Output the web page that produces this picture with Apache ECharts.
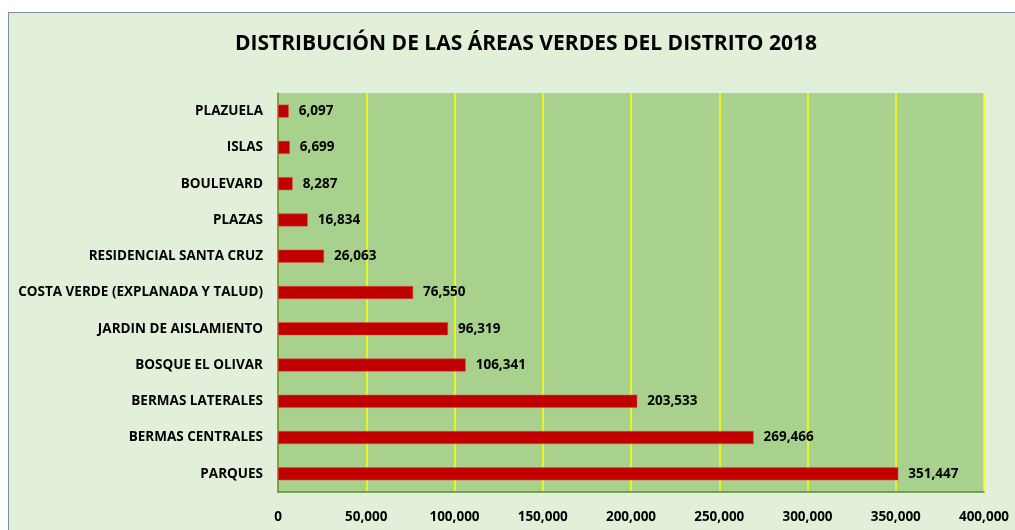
<!DOCTYPE html>
<html>
<head>
<meta charset="utf-8">
<script src="https://cdn.jsdelivr.net/npm/echarts@6/dist/echarts.min.js"></script>
<style>
  html, body { margin: 0; padding: 0; background: #fff; }
  #frame {
    position: absolute; left: 8px; top: 12px; right: -4px; bottom: -4px;
    background: #e2efd9;
    border-left: 1px solid #7f8fa6;
    border-top: 1px solid #7f8fa6;
  }
  #chart { position: absolute; left: 0; top: 0; width: 1015px; height: 530px; }
</style>
</head>
<body>
<div id="frame"></div>
<div id="chart"></div>
<script>
const FONT = '"Open Sans", sans-serif';

const categories = [
  "PLAZUELA",
  "ISLAS",
  "BOULEVARD",
  "PLAZAS",
  "RESIDENCIAL SANTA CRUZ",
  "COSTA VERDE (EXPLANADA Y TALUD)",
  "JARDIN DE AISLAMIENTO",
  "BOSQUE EL OLIVAR",
  "BERMAS LATERALES",
  "BERMAS CENTRALES",
  "PARQUES"
];
const areas = [6097, 6699, 8287, 16834, 26063, 76550, 96319, 106341, 203533, 269466, 351447];

const fmt = (v) => v.toLocaleString("en-US");

const chart = echarts.init(document.getElementById("chart"));

chart.setOption({
  backgroundColor: "transparent",
  animation: false,
  title: {
    text: "DISTRIBUCIÓN DE LAS ÁREAS VERDES DEL DISTRITO 2018",
    left: 521,
    top: 29,
    textAlign: "center",
    textStyle: { fontFamily: FONT, fontSize: 21, fontWeight: "bold", color: "#000" }
  },
  grid: {
    left: 278, right: 31, top: 93, bottom: 38,
    show: true, backgroundColor: "#a9d18e", borderWidth: 0
  },
  xAxis: {
    type: "value",
    min: 0,
    max: 400000,
    interval: 50000,
    axisLine: { show: true, lineStyle: { color: "#5b8a3c", width: 1.5 } },
    axisTick: { show: false },
    splitLine: { show: true, lineStyle: { color: "#ffff00", width: 1.5 } },
    axisLabel: {
      margin: 18,
      formatter: (v) => fmt(v),
      fontFamily: FONT, fontSize: 13.5, fontWeight: "bold", color: "#000"
    }
  },
  yAxis: {
    type: "category",
    data: categories,
    inverse: true,
    axisLine: { show: true, lineStyle: { color: "#5b8a3c", width: 1.5 } },
    axisTick: { show: false },
    axisLabel: {
      margin: 15,
      fontFamily: FONT, fontSize: 13.5, fontWeight: "bold", color: "#000"
    }
  },
  series: [{
    type: "bar",
    data: areas,
    barWidth: 13,
    itemStyle: { color: "#c00000", borderColor: "#d9534f", borderWidth: 0.5 },
    label: {
      show: true,
      position: "right",
      distance: 10,
      formatter: (p) => fmt(p.value),
      fontFamily: FONT, fontSize: 13.5, fontWeight: "bold", color: "#000"
    }
  }]
});
</script>
</body>
</html>
